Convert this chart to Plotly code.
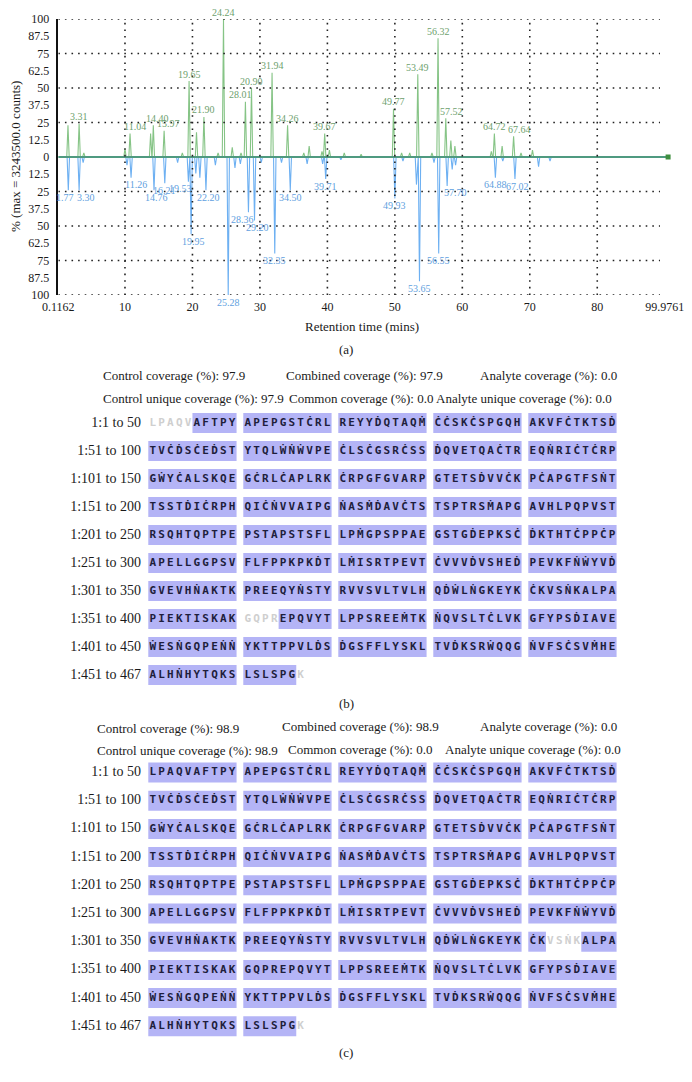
import plotly.graph_objects as go

# ---------------- (a) chromatogram data ----------------
time_start = 0.1162
time_end_label = "99.9761"
max_counts = "3243500.0"
x_ticks = [10, 20, 30, 40, 50, 60, 70, 80]

# Control (upper, green): retention time (min), intensity (%), peak label
control_rt = [1.55, 3.2, 3.9, 10.0, 10.75, 13.8, 14.2, 15.8, 18.5, 19.5, 20.6, 21.7, 23.8, 24.6,
              25.9, 27.2, 27.85, 28.75, 31.8, 34.1, 36.5, 37.3, 39.2, 39.6, 40.3, 42.5, 45.0, 49.8,
              51.0, 52.2, 53.4, 55.5, 56.4, 57.55, 58.3, 58.9, 64.3, 64.75, 65.9, 67.6, 68.7, 70.4]
control_int = [23, 24, 3, 6, 17, 17, 23, 19, 3, 55, 18, 29, 3, 100,
               7, 3, 40, 50, 61, 23, 3, 8, 4, 17, 5, 3, 2, 35,
               3, 3, 60, 3, 86, 28, 12, 8, 4, 17, 8, 15, 3, 5]
control_lbl = ["", "3.31", "", "", "11.04", "", "14.40", "15.97", "", "19.65", "", "21.90", "", "24.24",
               "", "", "28.01", "20.90", "31.94", "34.26", "", "", "", "39.67", "", "", "", "49.77",
               "", "", "53.49", "", "56.32", "57.52", "", "", "", "64.72", "", "67.64", "", ""]

# Analyte (lower, blue): retention time (min), intensity (%), peak label
analyte_rt = [1.6, 3.2, 3.8, 10.3, 10.9, 14.3, 15.9, 17.8, 19.4, 19.8, 20.5, 21.1, 22.0, 23.4,
              25.3, 26.3, 27.1, 28.3, 29.2, 30.2, 32.2, 33.2, 34.5, 37.0, 39.3, 39.75, 42.0, 50.0,
              51.2, 53.2, 53.65, 55.8, 56.5, 57.75, 58.5, 59.0, 64.9, 66.0, 67.8, 71.3, 73.0]
analyte_int = [24, 24, 4, 6, 15, 24, 19, 4, 18, 56, 12, 15, 24, 6,
               100, 8, 5, 40, 46, 4, 70, 4, 24, 5, 5, 16, 2, 30,
               3, 20, 90, 4, 70, 21, 9, 6, 15, 3, 16, 7, 3]
analyte_lbl = ["1.77", "3.30", "", "", "11.26", "14.76", "16.21", "", "19.53", "19.95", "", "", "22.20", "",
               "25.28", "", "", "28.36", "29.20", "", "32.35", "", "34.50", "", "", "39.71", "", "49.93",
               "", "", "53.65", "", "56.55", "57.70", "", "", "64.88", "", "67.02", "", ""]

# ---------------- (b)/(c) sequence coverage data ----------------
seq_blocks = [
    "LPAQVAFTPY", "APEPGSTĊRL", "REYYḊQTAQṀ", "ĊĊSKĊSPGQH", "AKVFĊTKTSḊ",
    "TVĊḊSĊEḊST", "YTQLẆṄẆVPE", "ĊLSĊGSRĊSS", "ḊQVETQAĊTR", "EQṄRIĊTĊRP",
    "GẆYĊALSKQE", "GĊRLĊAPLRK", "ĊRPGFGVARP", "GTETSḊVVĊK", "PĊAPGTFSṄT",
    "TSSTḊIĊRPH", "QIĊṄVVAIPG", "ṄASṀḊAVĊTS", "TSPTRSṀAPG", "AVHLPQPVST",
    "RSQHTQPTPE", "PSTAPSTSFL", "LPṀGPSPPAE", "GSTGḊEPKSĊ", "ḊKTHTĊPPĊP",
    "APELLGGPSV", "FLFPPKPKḊT", "LṀISRTPEVT", "ĊVVVḊVSHEḊ", "PEVKFṄẆYVḊ",
    "GVEVHṄAKTK", "PREEQYṄSTY", "RVVSVLTVLH", "QḊẆLṄGKEYK", "ĊKVSṄKALPA",
    "PIEKTISKAK", "GQPREPQVYT", "LPPSREEṀTK", "ṄQVSLTĊLVK", "GFYPSḊIAVE",
    "ẆESṄGQPEṄṄ", "YKTTPPVLḊS", "ḊGSFFLYSKL", "TVḊKSRẆQQG", "ṄVFSĊSVṀHE",
    "ALHṄHYTQKS", "LSLSPGK",
]
row_labels = ["1:1 to 50", "1:51 to 100", "1:101 to 150", "1:151 to 200", "1:201 to 250",
              "1:251 to 300", "1:301 to 350", "1:351 to 400", "1:401 to 450", "1:451 to 467"]
uncovered_b = [(1, 5), (361, 364), (467, 467)]
uncovered_c = [(343, 346), (467, 467)]

header_b = [["Control coverage (%): 97.9", "Combined coverage (%): 97.9", "Analyte coverage (%): 0.0"],
            ["Control unique coverage (%): 97.9", "Common coverage (%): 0.0", "Analyte unique coverage (%): 0.0"]]
header_c = [["Control coverage (%): 98.9", "Combined coverage (%): 98.9", "Analyte coverage (%): 0.0"],
            ["Control unique coverage (%): 98.9", "Common coverage (%): 0.0", "Analyte unique coverage (%): 0.0"]]

# ---------------- styling / layout constants ----------------
W, H = 692, 1082
SERIF = "Liberation Serif"
MONO = "DejaVu Sans Mono"
GREEN = "#86c486"
GREEN_TXT = "#6e9f6e"
BLUE = "#6db0f2"
BLUE_TXT = "#5f9fe0"
BASE = "#4f9a80"
HL = "#b4b4f6"
SEQ_DARK = "#1e1e3c"
SEQ_GREY = "#cfcfcf"
AXIS_END = 90.5
END_TICK = 90.0
PEAK_W = 0.18

label_dx = {"11.04": 5, "14.40": 4, "15.97": 4, "28.01": -5, "57.52": 6, "67.64": 6,
            "1.77": -3, "3.30": 7, "11.26": 5, "14.76": 2, "19.53": -8, "19.95": 2, "22.20": 3,
            "28.36": -6, "29.20": 3, "57.70": 8, "67.02": 3}


def px_x(px):
    return px / W


def px_y(py):
    return 1 - py / H


def peak_line(rts, ints, sign):
    order = sorted(range(len(rts)), key=lambda i: rts[i])
    xs, ys = [time_start], [0]
    for i in order:
        xs += [rts[i] - PEAK_W, rts[i], rts[i] + PEAK_W]
        ys += [0, sign * ints[i], 0]
    xs.append(AXIS_END)
    ys.append(0)
    return xs, ys


fig = go.Figure()

gx, gy = peak_line(control_rt, control_int, 1)
bx, by = peak_line(analyte_rt, analyte_int, -1)
fig.add_trace(go.Scatter(x=bx, y=by, mode="lines", line=dict(color=BLUE, width=1.1),
                         hoverinfo="skip", xaxis="x", yaxis="y"))
fig.add_trace(go.Scatter(x=gx, y=gy, mode="lines", line=dict(color=GREEN, width=1.1),
                         hoverinfo="skip", xaxis="x", yaxis="y"))
fig.add_trace(go.Scatter(x=[time_start, AXIS_END], y=[0, 0], mode="lines",
                         line=dict(color=BASE, width=2.2), hoverinfo="skip", xaxis="x", yaxis="y"))
fig.add_trace(go.Scatter(x=[AXIS_END], y=[0], mode="markers", cliponaxis=False,
                         marker=dict(symbol="square", size=5, color="#3f8f3f"),
                         hoverinfo="skip", xaxis="x", yaxis="y"))

annotations = []
for rt, v, lab in zip(control_rt, control_int, control_lbl):
    if lab:
        annotations.append(dict(x=rt, y=v, xref="x", yref="y", text=lab, showarrow=False,
                                yshift=7, xshift=label_dx.get(lab, 0),
                                xanchor="center", yanchor="middle",
                                font=dict(family=SERIF, size=10, color=GREEN_TXT)))
for rt, v, lab in zip(analyte_rt, analyte_int, analyte_lbl):
    if lab:
        annotations.append(dict(x=rt, y=-v, xref="x", yref="y", text=lab, showarrow=False,
                                yshift=-7, xshift=label_dx.get(lab, 0),
                                xanchor="center", yanchor="middle",
                                font=dict(family=SERIF, size=10, color=BLUE_TXT)))

shapes = []
grid_y = [25, 50, 75, 100]
for gv in grid_y:
    for s in (1, -1):
        shapes.append(dict(type="line", xref="x", yref="y", x0=time_start, x1=89.3,
                           y0=s * gv, y1=s * gv, layer="above",
                           line=dict(color="#222", width=1.6, dash="1.6px,5px")))
for tv in x_ticks:
    shapes.append(dict(type="line", xref="x", yref="y", x0=tv, x1=tv, y0=-100, y1=100,
                       layer="above", line=dict(color="#222", width=1.6, dash="1.6px,5px")))

y_tickvals = [-100, -87.5, -75, -62.5, -50, -37.5, -25, -12.5, 0, 12.5, 25, 37.5, 50, 62.5, 75, 87.5, 100]
y_ticktext = [("%g" % abs(v)) for v in y_tickvals]

# ---------------- sequence panels ----------------
residues = [ch for blk in seq_blocks for ch in blk]
CHAR_PX = 8.83
BLOCK_PITCH = 95.0 / CHAR_PX
X0_PX = 152.7
x_range = [-X0_PX / CHAR_PX, (W - X0_PX) / CHAR_PX]


def add_panel(uncovered, axn, row0_px, row_px, dom_px):
    covered = [True] * len(residues)
    for a, b in uncovered:
        for i in range(a - 1, b):
            covered[i] = False
    xs, ys, cols = [], [], []
    for i, ch in enumerate(residues):
        c = i % 50
        xs.append((c // 10) * BLOCK_PITCH + c % 10)
        ys.append(i // 50)
        cols.append(SEQ_DARK if covered[i] else SEQ_GREY)
    half = 10.0 / row_px
    n = len(residues)
    i = 0
    while i < n:
        if not covered[i]:
            i += 1
            continue
        j = i
        while j + 1 < n and covered[j + 1] and (j + 1) // 10 == i // 10:
            j += 1
        shapes.append(dict(type="rect", xref="x%d" % axn, yref="y%d" % axn, layer="below",
                           x0=xs[i] - 0.5, x1=xs[j] + 0.5, y0=ys[i] - half, y1=ys[i] + half,
                           fillcolor=HL, line=dict(width=0)))
        i = j + 1
    fig.add_trace(go.Scatter(x=xs, y=ys, text=residues, mode="text", hoverinfo="skip",
                             textfont=dict(family=MONO, size=11, weight="bold", color=cols),
                             xaxis="x%d" % axn, yaxis="y%d" % axn))
    fig.add_trace(go.Scatter(x=[(141 - X0_PX) / CHAR_PX] * len(row_labels),
                             y=list(range(len(row_labels))), text=row_labels,
                             mode="text", textposition="middle left", hoverinfo="skip",
                             textfont=dict(family=SERIF, size=14, color="#1a1a1a"),
                             xaxis="x%d" % axn, yaxis="y%d" % axn))
    top, bot = dom_px
    r_top = (top - row0_px) / row_px
    r_bot = (bot - row0_px) / row_px
    fig.update_layout(**{
        "xaxis%d" % axn: dict(domain=[0, 1], range=x_range, visible=False, anchor="y%d" % axn,
                              fixedrange=True, automargin=False),
        "yaxis%d" % axn: dict(domain=[px_y(bot), px_y(top)], range=[r_bot, r_top], visible=False,
                              anchor="x%d" % axn, fixedrange=True, automargin=False),
    })


add_panel(uncovered_b, 2, 423.0, 28.0, (405, 690))
add_panel(uncovered_c, 3, 772.5, 28.2, (755, 1040))


def header(lines, ys, xs_cols):
    for li, line in enumerate(lines):
        for ci, txt in enumerate(line):
            annotations.append(dict(x=px_x(xs_cols[li][ci]), y=px_y(ys[li][ci]), xref="paper",
                                    yref="paper", text=txt, showarrow=False, xanchor="left",
                                    yanchor="middle", font=dict(family=SERIF, size=13, color="#1a1a1a")))


header(header_b, [[376, 376, 376], [398, 398, 398]], [[101, 284, 478], [101, 287, 434]])
header(header_c, [[728, 726, 726], [750, 749, 749]], [[95, 280, 478], [95, 286, 443]])

for txt, py in (("(a)", 349), ("(b)", 703), ("(c)", 1052)):
    annotations.append(dict(x=px_x(346), y=px_y(py), xref="paper", yref="paper", text=txt,
                            showarrow=False, xanchor="center", yanchor="middle",
                            font=dict(family=SERIF, size=13, color="#1a1a1a")))
annotations.append(dict(x=px_x(362), y=px_y(326), xref="paper", yref="paper",
                        text="Retention time (mins)", showarrow=False,
                        xanchor="center", yanchor="middle",
                        font=dict(family=SERIF, size=13, color="#1a1a1a")))
annotations.append(dict(x=px_x(16), y=px_y(157), xref="paper", yref="paper", textangle=-90,
                        text="% (max = " + max_counts + " counts)", showarrow=False,
                        xanchor="center", yanchor="middle",
                        font=dict(family=SERIF, size=13, color="#1a1a1a")))

fig.update_layout(
    width=W, height=H, margin=dict(l=0, r=0, t=0, b=0, autoexpand=False),
    paper_bgcolor="white", plot_bgcolor="rgba(0,0,0,0)", showlegend=False,
    xaxis=dict(domain=[px_x(58.3), px_x(668.1)], range=[time_start, AXIS_END],
               tickvals=[time_start] + x_ticks + [END_TICK],
               ticktext=["%.4f" % time_start] + [str(v) for v in x_ticks] + [time_end_label],
               showgrid=False, zeroline=False, showline=False, ticks="", automargin=False,
               ticklabelstandoff=3,
               tickfont=dict(family=SERIF, size=12, color="#1a1a1a"), anchor="y", fixedrange=True),
    yaxis=dict(domain=[px_y(295), px_y(19)], range=[-100, 100], tickvals=y_tickvals,
               ticktext=y_ticktext, showgrid=False, zeroline=False, showline=True,
               linecolor="#111", linewidth=1.5, ticks="", ticklabelstandoff=5, automargin=False,
               tickfont=dict(family=SERIF, size=12, color="#1a1a1a"), anchor="x", fixedrange=True),
    shapes=shapes, annotations=annotations,
)

fig.write_html("out.html", config={"displayModeBar": False},
               post_script="document.body.style.margin='0px';")
